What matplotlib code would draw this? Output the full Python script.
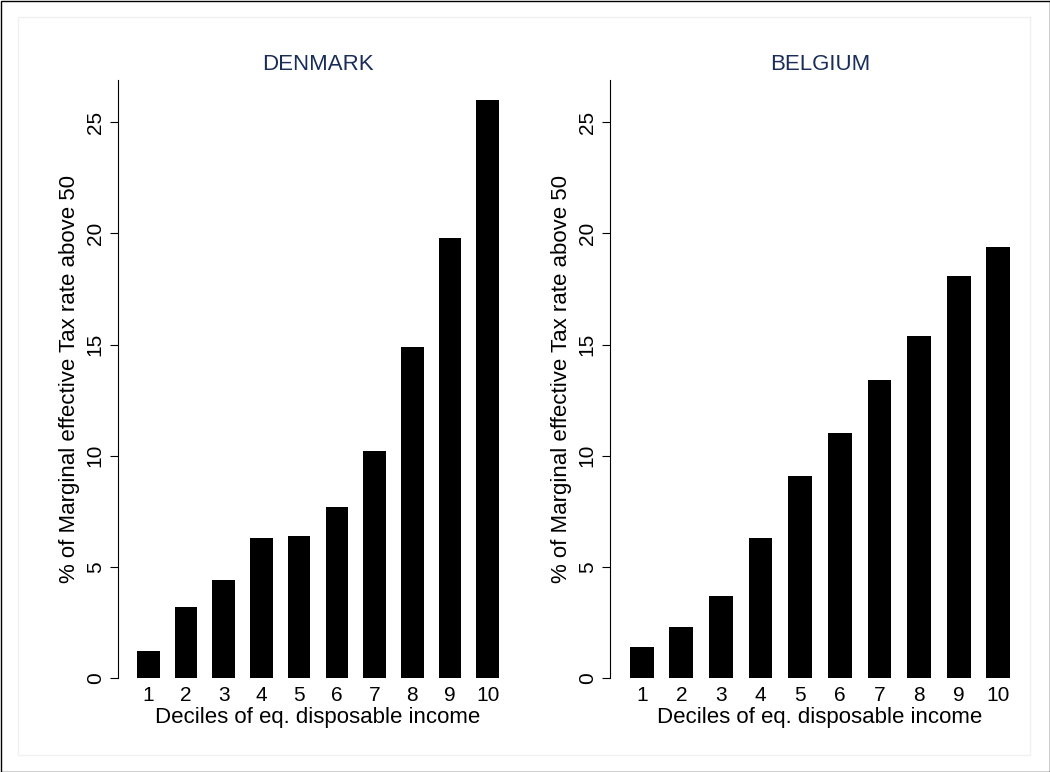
import matplotlib.pyplot as plt
from matplotlib.patches import Rectangle

plt.rcParams['font.family'] = ['Liberation Sans', 'DejaVu Sans']

# -----------------------------
# Data
# -----------------------------
deciles = [1, 2, 3, 4, 5, 6, 7, 8, 9, 10]
denmark = [1.2, 3.2, 4.4, 6.3, 6.4, 7.7, 10.2, 14.9, 19.8, 26.0]
belgium = [1.4, 2.3, 3.7, 6.3, 9.1, 11.0, 13.4, 15.4, 18.1, 19.4]

W, H = 1050, 772
fig = plt.figure(figsize=(W / 100, H / 100), dpi=100)
fig.patches.append(Rectangle((0.5 / W, 0.5 / H), 1 - 1 / W, 1 - 1 / H, transform=fig.transFigure,
                             fill=False, edgecolor='black', linewidth=1))
fig.patches.append(Rectangle((18 / W, 17 / H), 1012 / W, 738 / H, transform=fig.transFigure,
                             fill=False, edgecolor='#f0f0f0', linewidth=1))

panels = [("DENMARK", denmark, 118, 518), ("BELGIUM", belgium, 610, 1030)]
for title, vals, x0, x1 in panels:
    ax = fig.add_axes([x0 / W, (H - 678) / H, (x1 - x0) / W, (678 - 80) / H])
    ax.bar(deciles, vals, width=0.6, color='black')
    ax.set_xlim(0.2, 10.8)
    ax.set_ylim(0, 26.9)
    ax.set_yticks([0, 5, 10, 15, 20, 25])
    ax.set_xticks(deciles)
    for s in ['top', 'right', 'bottom']:
        ax.spines[s].set_visible(False)
    ax.spines['left'].set_linewidth(0.8)
    ax.tick_params(axis='y', labelsize=15, length=6, width=0.8, labelrotation=90)
    for lbl in ax.get_yticklabels():
        lbl.set_va('center')
    ax.tick_params(axis='x', labelsize=15, length=0, pad=6)
    ax.set_ylabel("% of Marginal effective Tax rate above 50", fontsize=16)
    ax.set_xlabel("Deciles of eq. disposable income", fontsize=16, labelpad=1)
    ax.set_title(title, fontsize=16, color='#1a2d5a', pad=7)

plt.savefig("out.png", dpi=100)
